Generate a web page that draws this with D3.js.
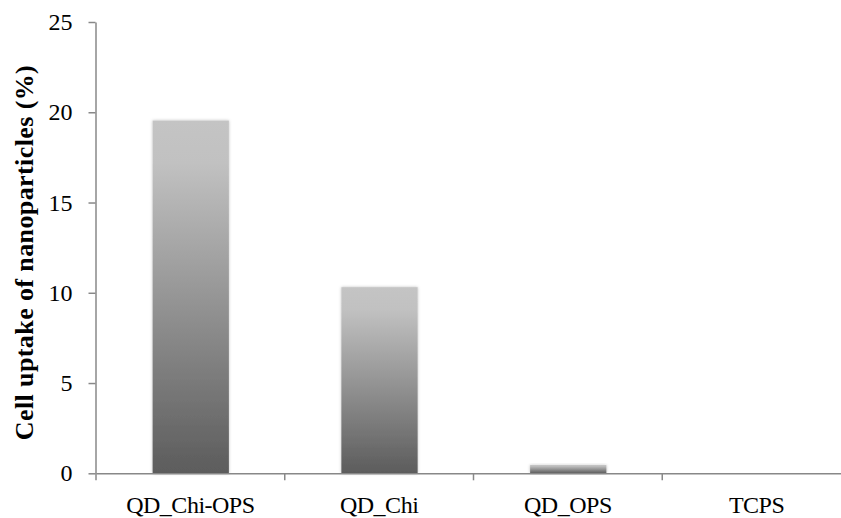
<!DOCTYPE html>
<html><head><meta charset="utf-8">
<script src="https://cdn.jsdelivr.net/npm/d3@7"></script>
<style>body{margin:0;background:#fff}svg{display:block}</style>
</head><body>
<script>
const categories = ["QD_Chi-OPS", "QD_Chi", "QD_OPS", "TCPS"];
const values = [19.54, 10.31, 0.46, 0];
const yTicks = [0, 5, 10, 15, 20, 25];
const yTitle = "Cell uptake of nanoparticles (%)";

const W = 841, H = 518;
const svg = d3.select("body").append("svg").attr("width", W).attr("height", H);
const defs = svg.append("defs");
const grad = defs.append("linearGradient").attr("id", "g").attr("x1", 0).attr("y1", 0).attr("x2", 0).attr("y2", 1);
grad.append("stop").attr("offset", "0%").attr("stop-color", "#c4c4c4");
grad.append("stop").attr("offset", "12%").attr("stop-color", "#c1c1c1");
grad.append("stop").attr("offset", "100%").attr("stop-color", "#5c5c5c");
const f = defs.append("filter").attr("id", "sh").attr("x", "-20%").attr("y", "-20%").attr("width", "140%").attr("height", "140%");
f.append("feDropShadow").attr("dx", 0).attr("dy", 0).attr("stdDeviation", 1.5).attr("flood-color", "#000").attr("flood-opacity", 0.25);

const x = d3.scaleBand().domain(categories).range([96, 851]).padding(0);
const y = d3.scaleLinear().domain([0, 25]).range([473.3, 22]);
const bw = x.bandwidth();

svg.append("g").selectAll("rect").data(values).join("rect")
  .attr("x", (d, i) => x(categories[i]) + bw * 0.3)
  .attr("width", bw * 0.404)
  .attr("y", d => y(d))
  .attr("height", d => y(0) - y(d))
  .attr("fill", "url(#g)")
  .attr("filter", "url(#sh)");

const font = "'Liberation Serif', serif";
const ya = svg.append("g").attr("transform", "translate(95.5,0)")
  .call(d3.axisLeft(y).tickValues(yTicks).tickSize(7).tickPadding(16).tickSizeOuter(0));
ya.select(".domain").attr("stroke", "#888").attr("stroke-width", 1.5);
ya.selectAll(".tick line").attr("stroke", "#888").attr("stroke-width", 1.5);
ya.selectAll("text").attr("font-family", font).attr("font-size", 24).attr("fill", "#000");

const xa = svg.append("g").attr("transform", "translate(0,473.3)")
  .call(d3.axisBottom(x).tickSize(0).tickSizeOuter(0).tickPadding(23));
xa.select(".domain").attr("stroke", "#888").attr("stroke-width", 1.5);
xa.selectAll("text").attr("font-family", font).attr("font-size", 24).attr("letter-spacing", -0.5).attr("fill", "#000");
// category boundary ticks
xa.append("g").selectAll("line").data(categories).join("line")
  .attr("x1", d => x(d)).attr("x2", d => x(d))
  .attr("y1", 0).attr("y2", 7).attr("stroke", "#888").attr("stroke-width", 1.5);

svg.append("text")
  .attr("transform", "translate(33,252.5) rotate(-90)")
  .attr("text-anchor", "middle")
  .attr("font-family", font).attr("font-weight", "bold").attr("font-size", 26)
  .attr("letter-spacing", 0.4)
  .text(yTitle);
</script>
</body></html>
